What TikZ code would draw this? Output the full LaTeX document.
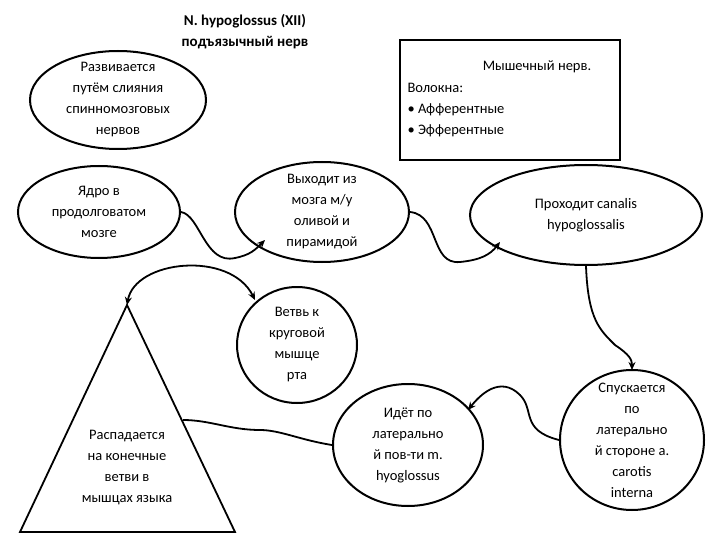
\documentclass[tikz,border=0pt]{standalone}
\usepackage{fontspec}
\setmainfont{Carlito}
\usetikzlibrary{shapes.geometric,arrows.meta}
\begin{document}
\begin{tikzpicture}[x=1pt,y=-1pt,
  ell/.style={ellipse,draw,line width=2pt,inner sep=0pt},
  txt/.style={align=center,font=\fontsize{14.5}{21}\selectfont},
  conn/.style={line width=1.8pt,-{Stealth[length=8pt,width=7pt]}}]
\useasboundingbox (0,0) rectangle (720,540);
\node[txt,font=\bfseries\fontsize{15}{21}\selectfont] (title) at (245,32) {N. hypoglossus (XII)\\подъязычный нерв};
\node[ell,minimum width=176pt,minimum height=98pt] (e1) at (118,100) {};
\node[txt] at (e1) {Развивается\\путём слияния\\спинномозговых\\нервов};
\draw[line width=1.2pt] (400,40) rectangle (620,160);
\node[txt] (r1) at (537,67) {Мышечный нерв.};
\node[txt,align=left,anchor=west] (r2) at (404,110) {Волокна:\\• Афферентные\\• Эфферентные};
\node[ell,minimum width=162pt,minimum height=92pt] (e2) at (99,212) {};
\node[txt] at (e2) {Ядро в\\продолговатом\\мозге};
\node[ell,minimum width=174pt,minimum height=100pt] (e3) at (322,212) {};
\node[txt] at (e3) {Выходит из\\мозга м/у\\оливой и\\пирамидой};
\node[ell,minimum width=232pt,minimum height=100pt] (e4) at (586,215) {};
\node[txt] at (e4) {Проходит canalis\\hypoglossalis};
\node[ell,minimum width=120pt,minimum height=116pt] (e5) at (297,345) {};
\node[txt] at (e5) {Ветвь к\\круговой\\мышце\\рта};
\node[ell,minimum width=150pt,minimum height=122pt] (e6) at (408,445) {};
\node[txt] at (e6) {Идёт по\\латерально\\й пов-ти m.\\hyoglossus};
\node[ell,minimum width=144pt,minimum height=140pt] (e7) at (632,440) {};
\node[txt] at (e7) {Спускается\\по\\латерально\\й стороне a.\\carotis\\interna};
\coordinate (apex) at (127,305);
\coordinate (bl) at (20,532);
\coordinate (br) at (235,532);
\draw[line width=1.8pt] (apex) -- (bl) -- (br) -- cycle;
\node[txt] (tt) at (127,468) {Распадается\\на конечные\\ветви в\\мышцах языка};
\coordinate (tside) at (183,420);
\draw[conn] (e2.east) .. controls (200,215) and (205,265) .. (235,258) .. controls (250,255) and (255,250) .. (265,240);
\draw[conn] (e3.east) .. controls (440,215) and (430,265) .. (460,262) .. controls (480,260) and (490,255) .. (500,242);
\draw[conn] (e4.south) .. controls (588,320) and (600,330) .. (615,345) .. controls (630,355) and (632,360) .. (632,370);
\draw[conn] (e7.west) .. controls (520,430) and (535,410) .. (520,395) .. controls (500,375) and (480,395) .. (468,410);
\draw[line width=1.8pt] (e6.west) .. controls (300,440) and (280,430) .. (260,430) .. controls (230,430) and (210,420) .. (tside);
\draw[line width=1.8pt,{Stealth[length=8pt,width=7pt]}-{Stealth[length=8pt,width=7pt]}] (apex) .. controls (135,260) and (230,250) .. (255,300);
\end{tikzpicture}
\end{document}
